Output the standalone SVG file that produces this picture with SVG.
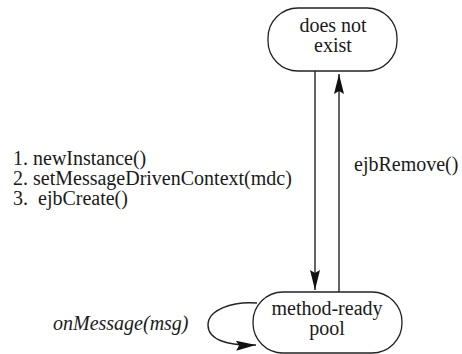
<svg xmlns="http://www.w3.org/2000/svg" width="462" height="354" viewBox="0 0 462 354">
  <style>
    text { font-family: "Liberation Serif", "Times New Roman", Times, "DejaVu Serif", serif; font-size: 20px; fill: #1a1a1a; }
    .state { fill: #ffffff; stroke: #222222; stroke-width: 1.3; }
    .mid { text-anchor: middle; }
    .ital { font-style: italic; }
    .edge { fill: none; stroke: #222222; stroke-width: 1.4; }
  </style>
  <defs>
    <marker id="arrow" viewBox="0 0 20 10" refX="20" refY="5" markerWidth="20" markerHeight="10" markerUnits="userSpaceOnUse" orient="auto">
      <path d="M0,0 L20,5 L0,10 L3,5 Z" fill="#111111"/>
    </marker>
  </defs>

  <g id="connectors">
    <line class="edge" x1="315" y1="71" x2="315" y2="290" marker-end="url(#arrow)"/>
    <line class="edge" x1="339" y1="292" x2="339" y2="74" marker-end="url(#arrow)"/>
    <path class="edge" d="M257,303 C232,301 208,310 208,325 C208,340 228,346 256,345" marker-end="url(#arrow)"/>
  </g>

  <g id="does-not-exist">
    <rect class="state" x="268" y="8" width="129" height="63" rx="30" ry="30"/>
    <text class="mid" x="333" y="32">does not</text>
    <text class="mid" x="333" y="52">exist</text>
  </g>

  <g id="method-ready-pool">
    <rect class="state" x="253" y="292" width="149" height="61" rx="30" ry="30"/>
    <text class="mid" x="327" y="315">method-ready</text>
    <text class="mid" x="327" y="335">pool</text>
  </g>

  <g id="labels">
    <text x="13" y="165">1. newInstance()</text>
    <text x="13" y="185">2. setMessageDrivenContext(mdc)</text>
    <text x="13" y="205" xml:space="preserve">3.  ejbCreate()</text>
    <text x="354" y="171">ejbRemove()</text>
    <text class="ital" x="53" y="330">onMessage(msg)</text>
  </g>
</svg>
